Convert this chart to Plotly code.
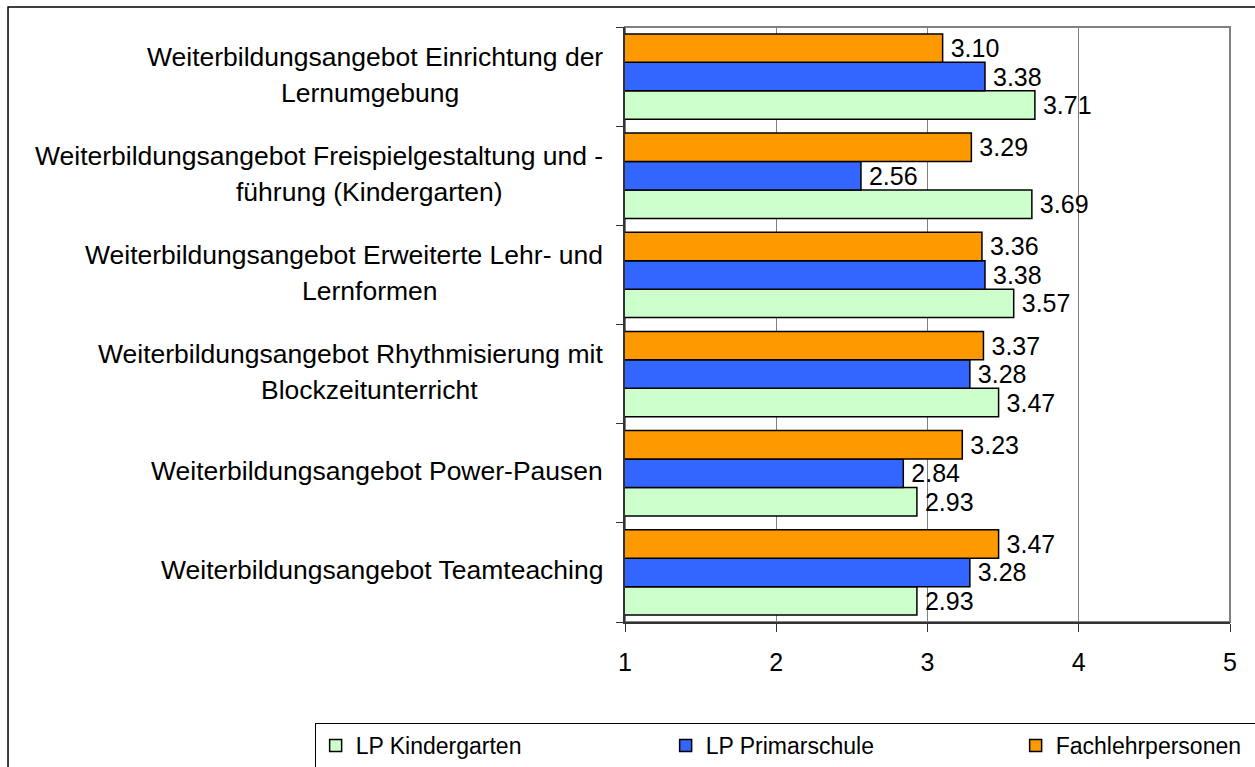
import plotly.graph_objects as go

# category labels, top to bottom (two-line labels as in the original)
label_line1 = [
    "Weiterbildungsangebot Einrichtung der",
    "Weiterbildungsangebot Freispielgestaltung und -",
    "Weiterbildungsangebot Erweiterte Lehr- und",
    "Weiterbildungsangebot Rhythmisierung mit",
    "Weiterbildungsangebot Power-Pausen",
    "Weiterbildungsangebot Teamteaching",
]
label_line2 = [
    "Lernumgebung",
    "führung (Kindergarten)",
    "Lernformen",
    "Blockzeitunterricht",
    "",
    "",
]
categories = [(a + " " + b).strip() for a, b in zip(label_line1, label_line2)]

# mean ratings per group (same order as categories)
lp_kindergarten = [3.71, 3.69, 3.57, 3.47, 2.93, 2.93]
lp_primarschule = [3.38, 2.56, 3.38, 3.28, 2.84, 3.28]
fachlehrpersonen = [3.10, 3.29, 3.36, 3.37, 3.23, 3.47]

x_ticks = [1, 2, 3, 4, 5]

series = [
    ("LP Kindergarten", lp_kindergarten, "#CCFFCC"),
    ("LP Primarschule", lp_primarschule, "#3366FF"),
    ("Fachlehrpersonen", fachlehrpersonen, "#FF9900"),
]

FONT = "Liberation Sans, Arial, sans-serif"

fig = go.Figure()
for name, vals, color in series:
    fig.add_trace(go.Bar(
        y=categories,
        x=vals,
        orientation="h",
        name=name,
        marker=dict(color=color, line=dict(color="black", width=1.5)),
        text=[f"\u2009{v:.2f}" for v in vals],
        textposition="outside",
        constraintext="none",
        cliponaxis=False,
        textfont=dict(family=FONT, size=25, color="black"),
    ))

# category labels drawn as annotations (first line right-aligned, second centred)
annotations = []
label_font = dict(family=FONT, size=26.5, color="black")
for cat, l1, l2 in zip(categories, label_line1, label_line2):
    if l2:
        annotations.append(dict(x=-0.033, y=cat, xref="paper", yref="y", text=l1,
                                xanchor="right", yanchor="middle", yshift=20,
                                showarrow=False, font=label_font))
        annotations.append(dict(x=-0.4215, y=cat, xref="paper", yref="y", text=l2,
                                xanchor="center", yanchor="middle", yshift=-16,
                                showarrow=False, font=label_font))
    else:
        annotations.append(dict(x=-0.033, y=cat, xref="paper", yref="y", text=l1,
                                xanchor="right", yanchor="middle", yshift=2,
                                showarrow=False, font=label_font))

fig.update_layout(
    width=1255,
    height=767,
    barmode="group",
    bargap=0.14,
    bargroupgap=0,
    plot_bgcolor="white",
    paper_bgcolor="white",
    margin=dict(l=625, r=25, t=27, b=145, autoexpand=False),
    font=dict(family=FONT, size=25, color="black"),
    annotations=annotations,
    legend=dict(
        orientation="h",
        x=-0.513, y=-0.1697, xanchor="left", yanchor="top",
        bordercolor="black", borderwidth=1,
        entrywidth=305,
        font=dict(family=FONT, size=23, color="black"),
        traceorder="normal",
    ),
    shapes=[
        # outer chart frame
        dict(type="rect", xref="paper", yref="paper",
             x0=-1.0198, x1=1.2, y0=-0.4, y1=1.0336,
             line=dict(color="black", width=1.5), layer="below"),
        # plot area border (grey top/right)
        dict(type="rect", xref="paper", yref="paper",
             x0=0, x1=1, y0=0, y1=1,
             line=dict(color="#808080", width=2), layer="below"),
    ],
)

fig.update_xaxes(
    range=[1, 5],
    tickvals=x_ticks,
    showgrid=True, gridcolor="#808080", gridwidth=1,
    zeroline=False,
    showline=True, linecolor="#333333", linewidth=2,
    ticks="outside", ticklen=8, tickcolor="#333333",
    ticklabelstandoff=9,
    tickfont=dict(family=FONT, size=25, color="black"),
)
fig.update_yaxes(
    categoryorder="array",
    categoryarray=categories[::-1],
    showticklabels=False,
    showgrid=False,
    showline=True, linecolor="#333333", linewidth=2,
    ticks="outside", ticklen=7, tickcolor="#333333",
    tickson="boundaries",
)

fig.write_html("out.html", config={"displayModeBar": False},
               post_script="document.body.style.margin='0';")
